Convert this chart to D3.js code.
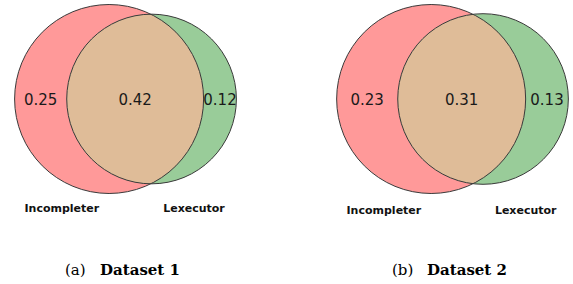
<!DOCTYPE html>
<html>
<head>
<meta charset="utf-8">
<script src="https://cdn.jsdelivr.net/npm/d3@7"></script>
<style>
  body { margin: 0; background: #fff; }
  svg { display: block; }
</style>
</head>
<body>
<div id="chart-area"></div>
<script>
// values
var panelTags = ["(a)", "(b)"];
var datasets = ["Dataset 1", "Dataset 2"];
var setNames = ["Incompleter", "Lexecutor"];
var onlyA = [0.25, 0.23];
var both = [0.42, 0.31];
var onlyB = [0.12, 0.13];

var width = 573, height = 284;
var panelX = [0, 327];     // left edge of each panel
var boxCenter = 125.5;     // diagram centred here inside a panel
var cy = 99;
var maxR = 94.5;

var colA = "#ff9999", colB = "#99cc99", colAB = "#dfbc98";

// overlap area of two circles at distance d
function lensArea(r1, r2, d) {
    if (d >= r1 + r2) { return 0; }
    if (d <= Math.abs(r1 - r2)) { var m = Math.min(r1, r2); return Math.PI * m * m; }
    var a1 = r1 * r1 * Math.acos((d * d + r1 * r1 - r2 * r2) / (2 * d * r1));
    var a2 = r2 * r2 * Math.acos((d * d + r2 * r2 - r1 * r1) / (2 * d * r2));
    var k = 0.5 * Math.sqrt((-d + r1 + r2) * (d + r1 - r2) * (d - r1 + r2) * (d + r1 + r2));
    return a1 + a2 - k;
}

function solveDistance(r1, r2, target) {
    var lo = Math.abs(r1 - r2), hi = r1 + r2;
    for (var i = 0; i < 60; i++) {
        var mid = (lo + hi) / 2;
        if (lensArea(r1, r2, mid) > target) { lo = mid; } else { hi = mid; }
    }
    return (lo + hi) / 2;
}

var svg = d3.select("#chart-area").append("svg")
    .attr("width", width)
    .attr("height", height);

var fmt = d3.format(".2f");

panelTags.forEach(function(tag, i) {
    var sizeA = onlyA[i] + both[i];
    var sizeB = onlyB[i] + both[i];
    var r = d3.scaleSqrt().domain([0, Math.max(sizeA, sizeB)]).range([0, maxR]);
    var rA = r(sizeA), rB = r(sizeB);
    var target = both[i] / sizeA * Math.PI * rA * rA;
    var d = solveDistance(rA, rB, target);

    // place so the whole diagram's box is centred in the panel
    var cxA = panelX[i] + boxCenter - (d + rB - rA) / 2;
    var cxB = cxA + d;

    var g = svg.append("g");

    g.append("defs").append("clipPath")
        .attr("id", "clipA" + i)
      .append("circle")
        .attr("cx", cxA).attr("cy", cy).attr("r", rA);

    g.append("circle")
        .attr("cx", cxA).attr("cy", cy).attr("r", rA)
        .attr("fill", colA);
    g.append("circle")
        .attr("cx", cxB).attr("cy", cy).attr("r", rB)
        .attr("fill", colB);
    g.append("circle")
        .attr("cx", cxB).attr("cy", cy).attr("r", rB)
        .attr("fill", colAB)
        .attr("clip-path", "url(#clipA" + i + ")");

    g.selectAll("circle.outline")
        .data([[cxA, rA], [cxB, rB]])
        .enter()
        .append("circle")
            .attr("class", "outline")
            .attr("cx", function(c) { return c[0]; })
            .attr("cy", cy)
            .attr("r", function(c) { return c[1]; })
            .attr("fill", "none")
            .attr("stroke", "#3a3a3a")
            .attr("stroke-width", 1);

    // region labels at mid points along the centre line
    var leftA = cxA - rA, rightA = cxA + rA, leftB = cxB - rB, rightB = cxB + rB;
    var regions = [
        { x: (leftA + leftB) / 2, v: onlyA[i] },
        { x: (leftB + rightA) / 2, v: both[i] },
        { x: (rightA + rightB) / 2, v: onlyB[i] }
    ];
    g.selectAll("text.region")
        .data(regions)
        .enter()
        .append("text")
            .attr("class", "region")
            .attr("x", function(p) { return p.x; })
            .attr("y", cy + 5.5)
            .attr("text-anchor", "middle")
            .attr("font-family", "DejaVu Sans, sans-serif")
            .attr("font-size", "15px")
            .attr("fill", "#1a1a1a")
            .text(function(p) { return fmt(p.v); });

    // set names below the circles
    var names = [
        { x: cxA - rA / 2, t: setNames[0] },
        { x: cxB + rB / 2, t: setNames[1] }
    ];
    g.selectAll("text.setname")
        .data(names)
        .enter()
        .append("text")
            .attr("class", "setname")
            .attr("x", function(p) { return p.x; })
            .attr("y", cy + maxR * 1.1 + 9 + i * 2)
            .attr("text-anchor", "middle")
            .attr("font-family", "DejaVu Sans, sans-serif")
            .attr("font-weight", "bold")
            .attr("font-size", "11px")
            .attr("fill", "#111")
            .text(function(p) { return p.t; });

    // caption
    var cap = g.append("text")
        .attr("x", panelX[i] + 65)
        .attr("y", 275)
        .attr("font-family", "DejaVu Serif, serif")
        .attr("font-size", "15px")
        .attr("fill", "#000");
    cap.append("tspan").text(tag);
    cap.append("tspan")
        .attr("x", panelX[i] + 100)
        .attr("font-weight", "bold")
        .text(datasets[i]);
});
</script>
</body>
</html>
